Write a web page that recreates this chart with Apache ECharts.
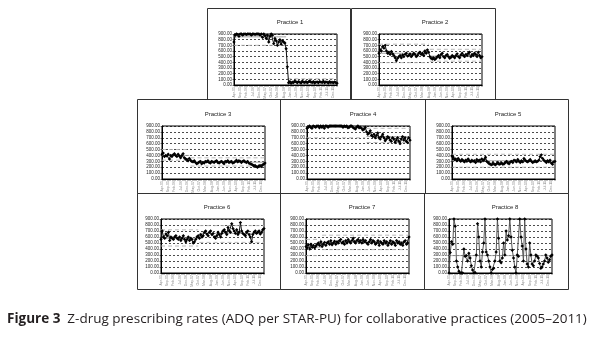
<!DOCTYPE html>
<html><head><meta charset="utf-8">
<script src="https://cdn.jsdelivr.net/npm/echarts@6/dist/echarts.min.js"></script>
<style>html,body{margin:0;padding:0;background:#fff}#c{width:600px;height:341px}</style>
</head><body><div id="c"></div>
<script>
// ---- tick labels / categories ----
const monthNames = ['Jan','Feb','Mar','Apr','May','Jun','Jul','Aug','Sep','Oct','Nov','Dec'];
const yearLabels = ['05','06','07','08','09','10','11','12'];
const categories = [];
for (let k = 3; k < 3 + 84; k++) categories.push(monthNames[k % 12] + '-' + yearLabels[Math.floor(k / 12)]);
const yTicks = [0,100,200,300,400,500,600,700,800,900];
const titles = ['Practice 1','Practice 2','Practice 3','Practice 4','Practice 5','Practice 6','Practice 7','Practice 8'];

// ---- series values (ADQ per STAR-PU) ----
const practice1 = [760,880,900,890,860,900,900,880,900,900,890,900,900,900,880,900,900,890,900,900,900,880,900,840,900,870,820,880,760,860,900,880,730,820,780,700,760,800,720,780,760,740,640,320,40,60,30,50,45,70,55,40,60,50,35,65,50,45,60,40,55,70,50,45,60,35,50,55,40,60,50,45,65,40,55,50,35,60,45,50,40,55,45,30];
const practice2 = [560,620,600,680,650,700,600,560,580,540,590,550,520,480,430,470,500,520,480,530,500,540,560,510,520,550,500,530,560,540,500,520,560,580,540,560,520,600,560,620,580,500,470,460,480,450,470,500,520,480,540,560,500,480,520,540,500,470,490,520,500,480,520,550,500,480,530,560,520,500,540,520,560,580,500,540,520,560,540,500,580,520,480,500];
const practice3 = [420,440,380,400,390,420,340,400,380,410,430,400,380,420,390,360,400,430,360,340,330,310,350,320,300,290,310,280,260,270,290,300,260,280,270,300,290,310,280,270,300,290,280,300,310,280,270,290,300,280,260,300,290,310,280,290,300,270,280,300,320,290,310,300,280,300,310,290,280,300,270,260,250,240,220,230,210,200,220,230,210,240,250,270];
const practice4 = [860,880,900,880,860,900,890,880,900,900,870,900,880,900,860,900,900,880,900,900,900,900,900,900,900,900,900,900,900,880,900,890,900,870,880,900,900,880,860,850,880,900,870,880,860,830,850,880,800,760,780,820,740,720,760,700,740,780,700,680,720,760,700,650,680,720,700,660,640,700,680,620,660,700,640,600,680,720,660,700,640,620,700,660];
const practice5 = [390,370,330,340,310,350,320,300,330,310,290,320,300,340,310,290,320,300,310,280,330,300,320,290,340,310,330,370,300,280,260,250,240,270,250,240,260,280,250,260,270,250,260,280,300,270,260,290,300,280,320,310,290,330,300,280,310,290,350,320,300,290,310,330,300,280,290,310,290,300,320,380,410,350,320,300,280,310,290,320,270,250,290,300];
const practice6 = [560,700,600,580,650,620,680,540,600,580,560,600,620,580,560,600,540,580,620,560,520,560,600,540,580,560,500,520,560,600,620,580,640,600,620,680,700,650,620,680,700,640,660,600,580,620,680,640,600,660,700,720,680,640,760,700,680,820,740,700,660,720,640,680,840,700,660,640,620,680,700,640,600,520,640,680,700,660,680,700,650,680,720,740];
const practice7 = [440,420,470,400,480,430,460,420,450,480,500,460,520,440,480,510,460,500,520,480,540,470,500,530,480,520,500,540,560,500,520,480,540,500,560,520,500,540,580,520,500,540,560,520,540,500,560,520,540,500,480,520,560,500,540,520,480,500,540,460,520,500,480,540,500,520,460,500,540,480,520,500,460,540,500,520,480,500,460,520,540,480,500,600];
const practice8 = [0,340,520,480,900,780,200,100,30,0,0,0,400,280,290,200,330,250,120,50,0,10,300,820,600,200,100,350,500,900,350,300,200,100,0,60,80,200,350,900,580,200,170,250,500,300,700,550,620,900,600,380,250,100,0,300,280,900,600,450,200,900,400,150,100,500,300,150,120,200,300,280,250,160,80,100,150,200,300,250,180,220,280,300];
const allValues = [practice1,practice2,practice3,practice4,practice5,practice6,practice7,practice8];

// ---- control limits: [startIdx, endIdx, upper, centre, lower] ----
const limits1 = [[0,42,null,850,700],[43,83,110,50,null]];
const limits2 = [[0,40,720,560,395],[41,83,630,510,420]];
const limits3 = [[0,22,500,400,320],[23,83,360,285,220]];
const limits4 = [[0,47,null,880,700],[48,83,860,720,620]];
const limits5 = [[0,83,420,310,200]];
const limits6 = [[0,30,720,580,450],[31,83,790,660,510]];
const limits7 = [[0,12,560,430,290],[13,83,630,510,390]];
const limits8 = [[0,83,null,290,null]];
const allLimits = [limits1,limits2,limits3,limits4,limits5,limits6,limits7,limits8];

// ---- layout ----
const panelBoxes = [[207,8,143,91],[351,8,144,91],[137,99,143,94],[280,99,145,94],[425,99,143,94],[137,193,143,96],[280,193,144,96],[424,193,144,96]];
const gridLefts = [234,379,162,307,452,161,306,449];
const gridTops = [34,34,126,126,126,219,219,219];
const gridHeights = [51,51,53,53,53,54,54,54];

const grids = [], xAxes = [], yAxes = [], series = [], titleOpts = [], graphics = [];
for (let i = 0; i < 8; i++) {
  grids.push({left: gridLefts[i], top: gridTops[i], width: 103, height: gridHeights[i], show: true, borderColor: '#000', borderWidth: 1, backgroundColor: '#fff'});
  xAxes.push({type: 'category', gridIndex: i, data: categories, boundaryGap: false,
    axisLine: {lineStyle: {color: '#000', width: 1}},
    axisTick: {show: true, interval: 0, length: 1.5, lineStyle: {color: '#000', width: 0.5}},
    axisLabel: {interval: 4, rotate: 90, fontSize: 3.5, color: '#888', margin: 2, fontFamily: 'Liberation Sans'},
    splitLine: {show: false}});
  yAxes.push({type: 'value', gridIndex: i, min: 0, max: 900, interval: 100,
    axisLine: {show: true, lineStyle: {color: '#000', width: 1}},
    axisTick: {show: true, length: 1.5, lineStyle: {color: '#000', width: 0.5}},
    axisLabel: {fontSize: 4.5, color: '#222', margin: 2, fontFamily: 'Liberation Sans', formatter: v => v.toFixed(2)},
    splitLine: {show: true, lineStyle: {color: '#000', width: 0.7, type: [2, 2]}}});
  const b = panelBoxes[i];
  graphics.push({type: 'rect', shape: {x: b[0] + 0.5, y: b[1] + 0.5, width: b[2], height: b[3]}, style: {fill: null, stroke: '#333', lineWidth: 1}, z: -1});
  titleOpts.push({text: titles[i], left: gridLefts[i] + 51, top: gridTops[i] - 20, textAlign: 'center',
    textStyle: {fontSize: 6, fontWeight: 'normal', color: '#222', fontFamily: 'Liberation Sans'}});
  allLimits[i].forEach(seg => {
    const kinds = [[seg[2], 'dashed'], [seg[3], 'solid'], [seg[4], 'dashed']];
    kinds.forEach(([val, ls]) => {
      if (val === null) return;
      series.push({type: 'line', xAxisIndex: i, yAxisIndex: i, symbol: 'none', silent: true,
        data: categories.map((c, k) => (k >= seg[0] && k <= seg[1]) ? val : null),
        lineStyle: {color: ls === 'solid' ? '#9a9a9a' : '#b0b0b0', width: 0.9, type: ls === 'solid' ? 'solid' : [4, 3]}, z: 2});
    });
  });
  series.push({type: 'line', xAxisIndex: i, yAxisIndex: i, data: allValues[i], symbol: 'diamond', symbolSize: 3.4,
    showAllSymbol: true,
    itemStyle: {color: '#000'}, lineStyle: {color: i === 7 ? '#555' : '#111', width: 1}, z: 3});
}
graphics.push({type: 'text', left: 7, top: 312, style: {
  text: '{b|Figure 3}  Z-drug prescribing rates (ADQ per STAR-PU) for collaborative practices (2005\u20132011)',
  font: '13.5px "Open Sans"', fill: '#231f20',
  rich: {b: {fontWeight: 'bold', fontSize: 13.5, fontFamily: 'Open Sans', fill: '#231f20'}}}});

const chart = echarts.init(document.getElementById('c'), null, {renderer: 'canvas'});
chart.setOption({animation: false, backgroundColor: '#fff', title: titleOpts, grid: grids, xAxis: xAxes, yAxis: yAxes, series: series, graphic: graphics});
</script></body></html>
